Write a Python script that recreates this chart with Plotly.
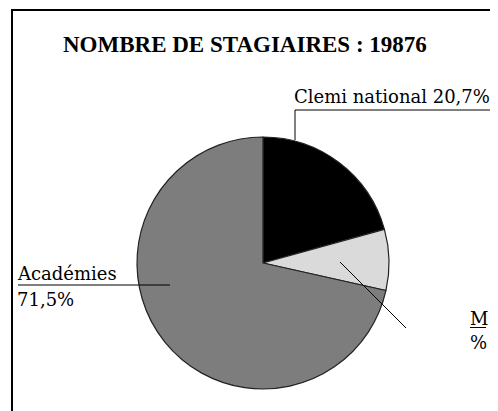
import plotly.graph_objects as go

W, H = 498, 411
OFF = 8  # page body margin

labels = ["Clemi national", "M", "Académies"]
values = [20.7, 7.8, 71.5]
colors = ["#000000", "#dadada", "#7d7d7d"]
title_text = "NOMBRE DE STAGIAIRES : 19876"

def px(x):
    return (x - OFF) / W

def py(y):
    return 1 - (y - OFF) / H

FONT = "DejaVu Serif"
TFONT = "Liberation Serif"

fig = go.Figure(go.Pie(
    labels=labels,
    values=values,
    sort=False,
    direction="clockwise",
    rotation=0,
    textinfo="none",
    hoverinfo="label+percent",
    marker=dict(colors=colors, line=dict(color="#222222", width=1.2)),
    domain=dict(x=[px(137), px(389)], y=[py(389), py(137)]),
    showlegend=False,
))

shapes = [
    # frame
    dict(type="rect", xref="paper", yref="paper", x0=px(12), y0=py(10), x1=px(530), y1=py(440),
         line=dict(color="black", width=2)),
    # Clemi leader
    dict(type="line", xref="paper", yref="paper", x0=px(295), y0=py(110), x1=px(490), y1=py(110),
         line=dict(color="black", width=1)),
    dict(type="line", xref="paper", yref="paper", x0=px(295), y0=py(110), x1=px(295), y1=py(140),
         line=dict(color="black", width=1)),
    # Académies leader
    dict(type="line", xref="paper", yref="paper", x0=px(18), y0=py(285), x1=px(170), y1=py(285),
         line=dict(color="black", width=1)),
    # M leader
    dict(type="line", xref="paper", yref="paper", x0=px(340), y0=py(262), x1=px(406), y1=py(328),
         line=dict(color="black", width=1)),
    dict(type="line", xref="paper", yref="paper", x0=px(470), y0=py(327.5), x1=px(486), y1=py(327.5),
         line=dict(color="black", width=1)),
]

def ann(text, x, y, size=18, bold=False, xanchor="left", yanchor="middle", family=FONT):
    return dict(text=f"<b>{text}</b>" if bold else text, xref="paper", yref="paper",
                x=px(x), y=py(y), xanchor=xanchor, yanchor=yanchor, showarrow=False,
                font=dict(family=family, size=size, color="black"))

annotations = [
    ann(title_text, 245, 44, size=23, bold=True, xanchor="center", family=TFONT),
    ann(f"{labels[0]} {values[0]:.1f}%".replace(".", ","), 292, 96.5),
    ann(labels[2], 15, 273.5),
    ann(f"{values[2]:.1f}%".replace(".", ","), 15, 299),
    ann(labels[1], 468, 318.5),
    ann("%", 468, 342),
]

fig.update_layout(
    width=W, height=H,
    margin=dict(l=0, r=0, t=0, b=0),
    paper_bgcolor="white",
    plot_bgcolor="white",
    shapes=shapes,
    annotations=annotations,
)

fig.write_html("out.html")
